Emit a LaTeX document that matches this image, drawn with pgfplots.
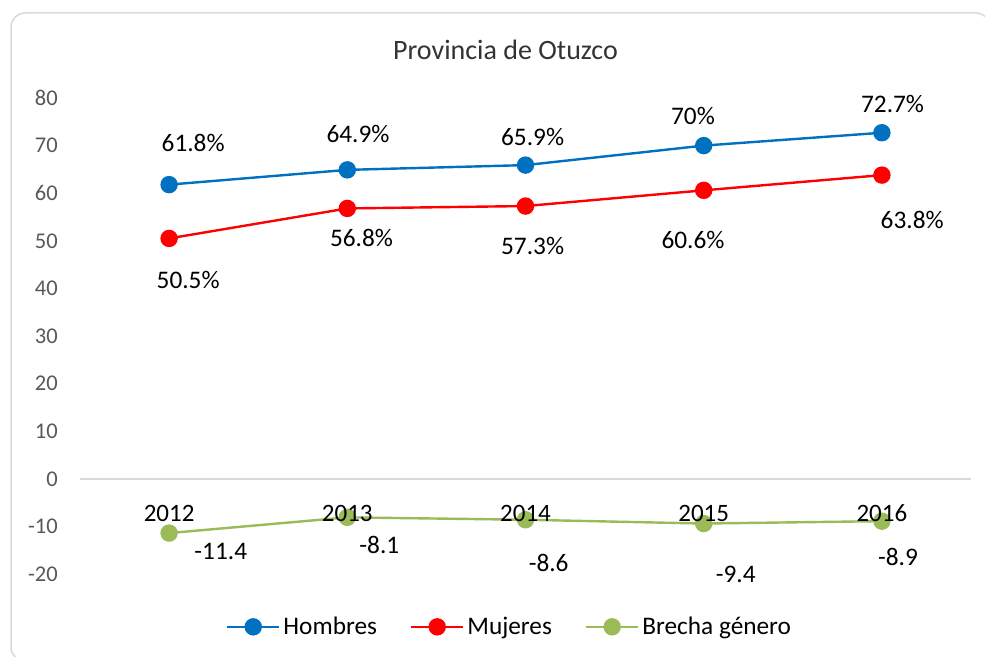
\documentclass[border=0pt]{standalone}
\usepackage{fontspec}
\setmainfont{Carlito}
\usepackage{pgfplots}
\pgfplotsset{compat=1.18}
\definecolor{cblue}{HTML}{0070C0}
\definecolor{cred}{HTML}{FF0000}
\definecolor{cgreen}{HTML}{9BBB59}
\definecolor{tickgray}{HTML}{595959}
\definecolor{zerogray}{HTML}{D9D9D9}
\definecolor{framegray}{HTML}{D9D9D9}
\pgfplotsset{
  base/.style={
    at={(80bp,83bp)}, anchor=south west, scale only axis,
    width=891bp, height=476bp,
    xmin=-0.5, xmax=4.5, ymin=-20, ymax=80,
    axis line style={draw=none},
    major tick length=0pt,
    clip=false,
  }
}
\begin{document}
\begin{tikzpicture}
\useasboundingbox (0,0) rectangle (985bp,657bp);
\fill[white] (0,0) rectangle (985bp,657bp);
\begin{scope}
\clip (0,0) rectangle (985bp,657bp);
\draw[framegray, line width=1.5bp, rounded corners=14bp] (11bp,-4bp) rectangle (990bp,644bp);
\end{scope}
\node[font=\fontsize{28bp}{34bp}\selectfont, text=black!80] at (505.5bp,607bp) {Provincia de Otuzco};
\begin{axis}[
  base,
  ytick={-20,-10,...,80},
  xtick={0,1,2,3,4},
  xticklabels={},
  /pgf/number format/assume math mode=true,
  yticklabel style={font=\fontsize{22.5bp}{27bp}\selectfont, text=tickgray, anchor=east, inner sep=0pt, xshift=-22bp},
  legend columns=3,
  legend cell align=left,
  legend style={at={(0.4826,-0.111)}, anchor=center, draw=none, fill=none,
    font=\fontsize{25.3bp}{30bp}\selectfont, inner xsep=0pt, inner ysep=0pt,
    /tikz/every even column/.append style={column sep=30bp},
    nodes={inner xsep=3bp, inner ysep=0pt}},
  legend image code/.code={\draw[mark repeat=2,mark phase=2,#1] plot coordinates {(0bp,0bp) (26bp,0bp) (52bp,0bp)};},
  every axis plot/.append style={line width=2.4bp, mark=*, mark size=7.5bp, mark options={solid, line width=0.3bp}},
]
\draw[zerogray, line width=1.5bp] (axis cs:-0.5,0) -- (axis cs:4.5,0);
\addplot[color=cblue, mark options={fill=cblue}] coordinates {(0,61.8) (1,64.9) (2,65.9) (3,70.0) (4,72.7)};
\addlegendentry{Hombres}
\addplot[color=cred, mark options={fill=cred}] coordinates {(0,50.5) (1,56.8) (2,57.3) (3,60.6) (4,63.8)};
\addlegendentry{Mujeres}
\addplot[color=cgreen, mark options={fill=cgreen}] coordinates {(0,-11.4) (1,-8.1) (2,-8.6) (3,-9.4) (4,-8.9)};
\addlegendentry{Brecha género}
\begin{scope}[every node/.style={font=\fontsize{25.3bp}{30bp}\selectfont, text=black, inner sep=0pt}]
\node at (axis cs:0.135,70.6) {61.8\%};
\node at (axis cs:1.06,72.5) {64.9\%};
\node at (axis cs:2.04,71.8) {65.9\%};
\node at (axis cs:2.94,76.3) {70\%};
\node at (axis cs:4.06,78.8) {72.7\%};
\node at (axis cs:0.107,41.8) {50.5\%};
\node at (axis cs:1.08,50.6) {56.8\%};
\node at (axis cs:2.04,48.9) {57.3\%};
\node at (axis cs:2.94,50.2) {60.6\%};
\node at (axis cs:4.17,54.4) {63.8\%};
\node at (axis cs:0.29,-15.3) {-11.4};
\node at (axis cs:1.18,-13.9) {-8.1};
\node at (axis cs:2.13,-17.6) {-8.6};
\node at (axis cs:3.18,-20.0) {-9.4};
\node at (axis cs:4.09,-16.4) {-8.9};
\end{scope}
\end{axis}
% overlay axis: category labels drawn on top of the markers
\begin{axis}[
  base,
  ytick=\empty,
  xtick={0,1,2,3,4},
  xticklabels={2012,2013,2014,2015,2016},
  xticklabel style={font=\fontsize{25bp}{30bp}\selectfont, text=black, anchor=center, inner sep=0pt, yshift=61bp},
]
\end{axis}
\end{tikzpicture}
\end{document}
